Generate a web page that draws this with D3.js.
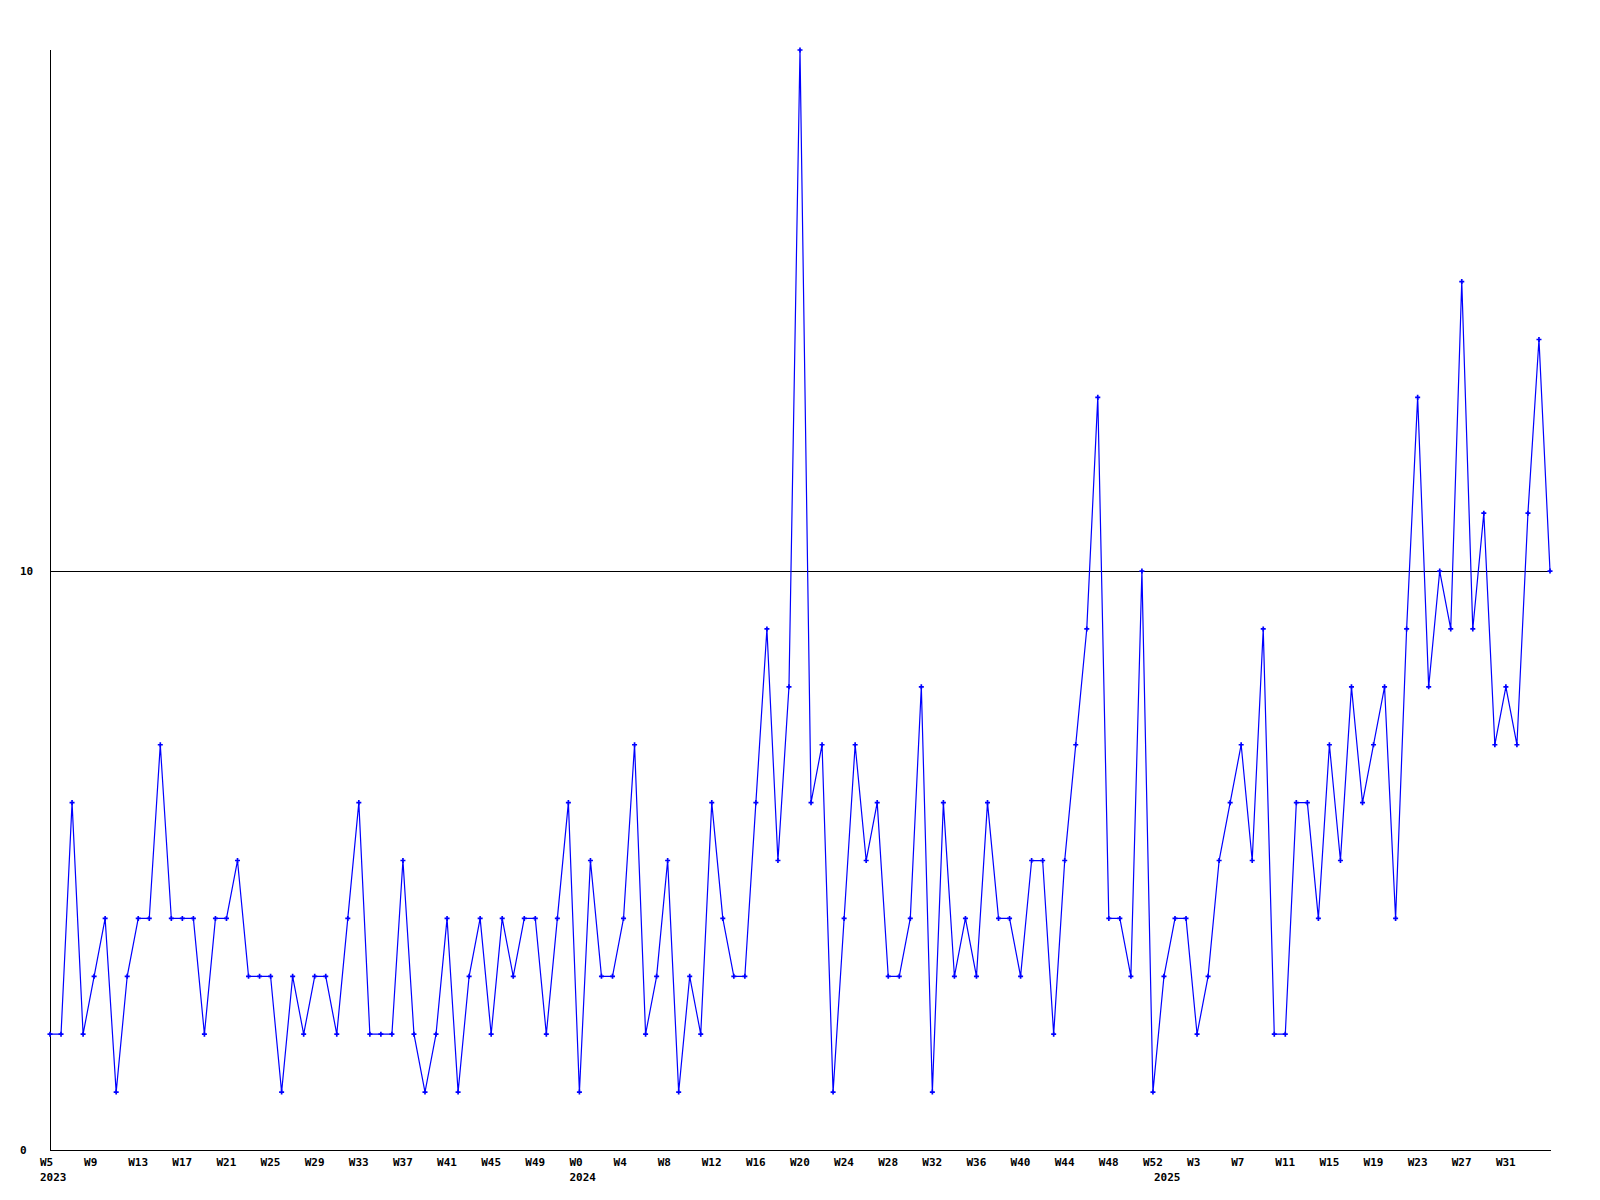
<!DOCTYPE html>
<html>
<head>
<meta charset="utf-8">
<script src="https://cdn.jsdelivr.net/npm/d3@7"></script>
<style>
  html, body { margin: 0; padding: 0; background: #fff; }
  svg { display: block; }
  text { font-family: "DejaVu Sans Mono", monospace; font-weight: bold; font-size: 11px; fill: #000; }
</style>
</head>
<body>
<svg id="chart" width="1600" height="1200"></svg>
<script>
// ---- data ----
const years = ["2023", "2024", "2025"];
const firstWeek = [5, 0, 0];
const lastWeek = [52, 52, 35];

const values = [
  2, 2, 6, 2, 3, 4, 1, 3, 4, 4,
  7, 4, 4, 4, 2, 4, 4, 5, 3, 3,
  3, 1, 3, 2, 3, 3, 2, 4, 6, 2,
  2, 2, 5, 2, 1, 2, 4, 1, 3, 4,
  2, 4, 3, 4, 4, 2, 4, 6, 1, 5,
  3, 3, 4, 7, 2, 3, 5, 1, 3, 2,
  6, 4, 3, 3, 6, 9, 5, 8, 19, 6,
  7, 1, 4, 7, 5, 6, 3, 3, 4, 8,
  1, 6, 3, 4, 3, 6, 4, 4, 3, 5,
  5, 2, 5, 7, 9, 13, 4, 4, 3, 10,
  1, 3, 4, 4, 2, 3, 5, 6, 7, 5,
  9, 2, 2, 6, 6, 4, 7, 5, 8, 6,
  7, 8, 4, 9, 13, 8, 10, 9, 15, 9,
  11, 7, 8, 7, 11, 14, 10
];

const yTicks = [0, 10];
const refLine = 10;
const tickEvery = 4;

// categories: week label + year for every point
const categories = [];
years.forEach((yr, k) => {
  for (let w = firstWeek[k]; w <= lastWeek[k]; w++) {
    categories.push({ year: yr, week: "W" + w, first: w === firstWeek[k] });
  }
});

// ---- layout ----
const plotLeft = 50, plotRight = 1550, plotTop = 50, plotBottom = 1150;
const svg = d3.select("#chart");

const x = d3.scaleLinear().domain([0, values.length - 1]).range([plotLeft, plotRight]);
const y = d3.scaleLinear().domain([0, 19]).range([plotBottom, plotTop]);

// axes lines
svg.append("line")
  .attr("x1", plotLeft + 0.5).attr("x2", plotLeft + 0.5)
  .attr("y1", plotTop).attr("y2", plotBottom + 0.5)
  .attr("stroke", "#000").attr("stroke-width", 1);
svg.append("line")
  .attr("x1", plotLeft).attr("x2", plotRight + 1)
  .attr("y1", plotBottom + 0.5).attr("y2", plotBottom + 0.5)
  .attr("stroke", "#000").attr("stroke-width", 1);

// reference line
svg.append("line")
  .attr("x1", plotLeft).attr("x2", plotRight + 1)
  .attr("y1", Math.round(y(refLine)) + 0.5).attr("y2", Math.round(y(refLine)) + 0.5)
  .attr("stroke", "#000").attr("stroke-width", 1);

// y labels
svg.selectAll("text.ylab").data(yTicks).enter().append("text")
  .attr("class", "ylab")
  .attr("x", 20)
  .attr("y", d => y(d) + 4)
  .text(d => d);

// x labels
categories.forEach((c, i) => {
  if (i % tickEvery === 0 && i < values.length - 1) {
    svg.append("text")
      .attr("x", x(i) - 10)
      .attr("y", 1166)
      .text(c.week);
  }
  if (c.first) {
    svg.append("text")
      .attr("x", x(i) - 10)
      .attr("y", 1181)
      .text(c.year);
  }
});

// line
const line = d3.line().x((d, i) => x(i)).y(d => y(d));
svg.append("path")
  .datum(values)
  .attr("d", line)
  .attr("fill", "none")
  .attr("stroke", "#0000ff")
  .attr("stroke-width", 1.2);

// markers
svg.selectAll("path.mk").data(values).enter().append("path")
  .attr("class", "mk")
  .attr("d", d3.symbol(d3.symbolCross).size(14))
  .attr("transform", (d, i) => `translate(${x(i)},${y(d)})`)
  .attr("fill", "#0000ff");
</script>
</body>
</html>
